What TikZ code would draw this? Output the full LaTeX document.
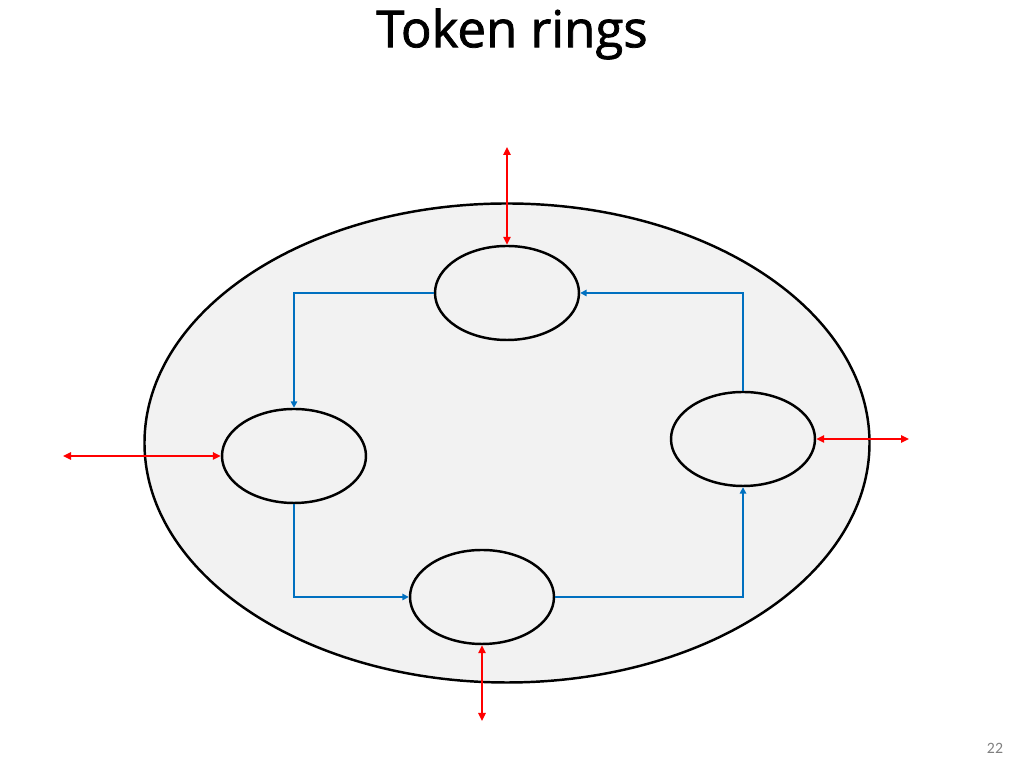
\documentclass[tikz,border=0pt]{standalone}
\usepackage{fontspec}
\setmainfont{Carlito}
\newfontfamily\titlefont{Open Sans}[FakeBold=1.5]
\usetikzlibrary{shapes.geometric,arrows.meta}
\definecolor{ringfill}{HTML}{F2F2F2}
\definecolor{ringblue}{HTML}{0070C0}

\begin{document}
\begin{tikzpicture}[
  station/.style={ellipse,draw=black,line width=1.4pt,fill=ringfill,minimum width=2.88cm,minimum height=1.88cm,inner sep=0pt},
  ring/.style={draw=ringblue,line width=0.9pt,-{Triangle[length=1.3mm,width=1.3mm]}},
  io/.style={draw=red,line width=0.9pt,{Triangle[length=1.6mm,width=1.5mm]}-{Triangle[length=1.6mm,width=1.5mm]}}]
  \useasboundingbox (0,0) rectangle (20.48,15.36);
  % the ring and its four stations
  \node[ellipse,draw=black,line width=1.4pt,fill=ringfill,minimum width=14.5cm,minimum height=9.58cm,inner sep=0pt] (lan) at (10.14,6.5) {};
  \coordinate (ptop) at (10.14,9.5);
  \coordinate (pleft) at (5.88,6.24);
  \coordinate (pright) at (14.86,6.58);
  \coordinate (pbottom) at (9.64,3.42);
  \node[station] (top) at (ptop) {};
  \node[station] (left) at (pleft) {};
  \node[station] (right) at (pright) {};
  \node[station] (bottom) at (pbottom) {};
  % token passing
  \draw[ring] (top.west) -| (left.north);
  \draw[ring] (left.south) |- (bottom.west);
  \draw[ring] (bottom.east) -| (right.south);
  \draw[ring] (right.north) |- (top.east);
  % outside links
  \coordinate (otop) at (10.14,12.42);
  \coordinate (oleft) at (1.26,6.24);
  \coordinate (oright) at (18.18,6.58);
  \coordinate (obottom) at (9.64,0.94);
  \draw[io] (otop) -- (top.north);
  \draw[io] (oleft) -- (left.west);
  \draw[io] (right.east) -- (oright);
  \draw[io] (bottom.south) -- (obottom);
  % title and page number
  \node[font=\titlefont\fontsize{29}{35}\selectfont] (title) at (10.24,14.68) {Token rings};
  \node[font=\fontsize{9}{11}\selectfont,text=gray] (page) at (19.9,0.4) {22};
\end{tikzpicture}
\end{document}
